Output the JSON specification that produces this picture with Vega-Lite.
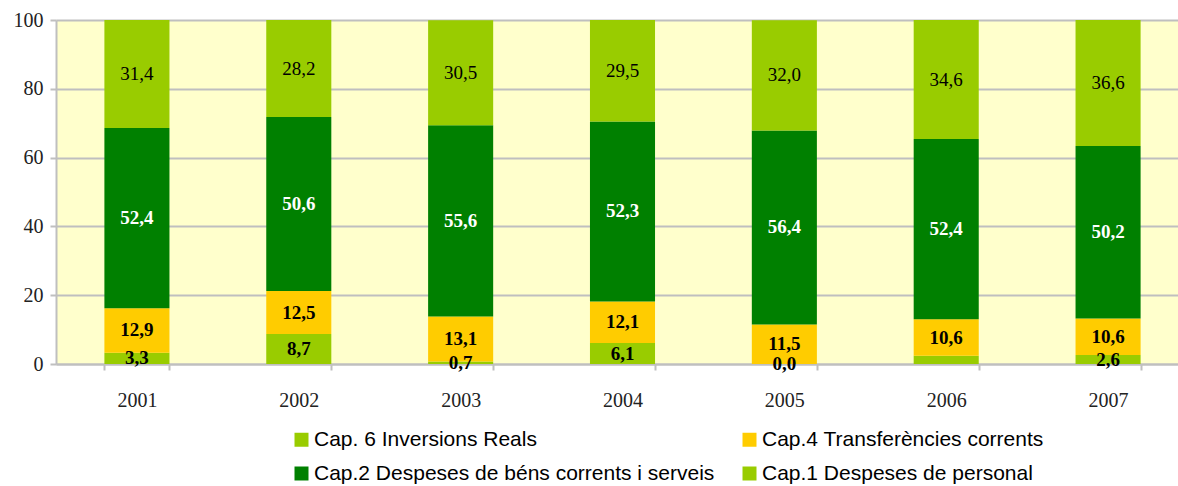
{
  "$schema": "https://vega.github.io/schema/vega-lite/v6.json",
  "width": 1133,
  "height": 344,
  "autosize": {"type": "none"},
  "padding": {"left": 56, "top": 20, "right": 0, "bottom": 122},
  "background": "white",
  "config": {
    "view": {"fill": "#FFFFCC", "stroke": null},
    "font": "Liberation Serif"
  },
  "data": {
    "values": [
      {"year": "2001", "serie": "Cap.1 Despeses de personal", "ordre": 1, "value": 3.3, "label": "3,3"},
      {"year": "2001", "serie": "Cap.4 Transferències corrents", "ordre": 2, "value": 12.9, "label": "12,9"},
      {"year": "2001", "serie": "Cap.2 Despeses de béns corrents i serveis", "ordre": 3, "value": 52.4, "label": "52,4"},
      {"year": "2001", "serie": "Cap. 6 Inversions Reals", "ordre": 4, "value": 31.4, "label": "31,4"},
      {"year": "2002", "serie": "Cap.1 Despeses de personal", "ordre": 1, "value": 8.7, "label": "8,7"},
      {"year": "2002", "serie": "Cap.4 Transferències corrents", "ordre": 2, "value": 12.5, "label": "12,5"},
      {"year": "2002", "serie": "Cap.2 Despeses de béns corrents i serveis", "ordre": 3, "value": 50.6, "label": "50,6"},
      {"year": "2002", "serie": "Cap. 6 Inversions Reals", "ordre": 4, "value": 28.2, "label": "28,2"},
      {"year": "2003", "serie": "Cap.1 Despeses de personal", "ordre": 1, "value": 0.7, "label": "0,7"},
      {"year": "2003", "serie": "Cap.4 Transferències corrents", "ordre": 2, "value": 13.1, "label": "13,1"},
      {"year": "2003", "serie": "Cap.2 Despeses de béns corrents i serveis", "ordre": 3, "value": 55.6, "label": "55,6"},
      {"year": "2003", "serie": "Cap. 6 Inversions Reals", "ordre": 4, "value": 30.5, "label": "30,5"},
      {"year": "2004", "serie": "Cap.1 Despeses de personal", "ordre": 1, "value": 6.1, "label": "6,1"},
      {"year": "2004", "serie": "Cap.4 Transferències corrents", "ordre": 2, "value": 12.1, "label": "12,1"},
      {"year": "2004", "serie": "Cap.2 Despeses de béns corrents i serveis", "ordre": 3, "value": 52.3, "label": "52,3"},
      {"year": "2004", "serie": "Cap. 6 Inversions Reals", "ordre": 4, "value": 29.5, "label": "29,5"},
      {"year": "2005", "serie": "Cap.1 Despeses de personal", "ordre": 1, "value": 0.0, "label": "0,0"},
      {"year": "2005", "serie": "Cap.4 Transferències corrents", "ordre": 2, "value": 11.5, "label": "11,5"},
      {"year": "2005", "serie": "Cap.2 Despeses de béns corrents i serveis", "ordre": 3, "value": 56.4, "label": "56,4"},
      {"year": "2005", "serie": "Cap. 6 Inversions Reals", "ordre": 4, "value": 32.0, "label": "32,0"},
      {"year": "2006", "serie": "Cap.1 Despeses de personal", "ordre": 1, "value": 2.4, "label": null},
      {"year": "2006", "serie": "Cap.4 Transferències corrents", "ordre": 2, "value": 10.6, "label": "10,6"},
      {"year": "2006", "serie": "Cap.2 Despeses de béns corrents i serveis", "ordre": 3, "value": 52.4, "label": "52,4"},
      {"year": "2006", "serie": "Cap. 6 Inversions Reals", "ordre": 4, "value": 34.6, "label": "34,6"},
      {"year": "2007", "serie": "Cap.1 Despeses de personal", "ordre": 1, "value": 2.6, "label": "2,6"},
      {"year": "2007", "serie": "Cap.4 Transferències corrents", "ordre": 2, "value": 10.6, "label": "10,6"},
      {"year": "2007", "serie": "Cap.2 Despeses de béns corrents i serveis", "ordre": 3, "value": 50.2, "label": "50,2"},
      {"year": "2007", "serie": "Cap. 6 Inversions Reals", "ordre": 4, "value": 36.6, "label": "36,6"}
    ]
  },
  "transform": [
    {"stack": "value", "groupby": ["year"], "sort": [{"field": "ordre", "order": "ascending"}], "as": ["y0", "y1"]},
    {"calculate": "(datum.y0 + datum.y1) / 2", "as": "mid"}
  ],
  "encoding": {
    "x": {
      "field": "year",
      "type": "ordinal",
      "scale": {"paddingInner": 0.598, "paddingOuter": 0.299},
      "axis": {
        "title": null,
        "labelAngle": 0,
        "labelFont": "Liberation Serif",
        "labelFontSize": 20,
        "labelColor": "#222222",
        "labelPadding": 20,
        "domainColor": "#BFBFBF",
        "domainWidth": 2,
        "tickColor": "#BFBFBF",
        "tickWidth": 2,
        "tickSize": 6,
        "tickBand": "extent",
        "grid": false
      }
    }
  },
  "layer": [
    {
      "mark": {"type": "bar"},
      "encoding": {
        "y": {
          "field": "y0",
          "type": "quantitative",
          "scale": {"domain": [0, 100], "nice": false},
          "axis": {
            "title": null,
            "values": [0, 20, 40, 60, 80, 100],
            "labelFont": "Liberation Serif",
            "labelFontSize": 20,
            "labelColor": "#222222",
            "labelPadding": 7,
            "grid": true,
            "gridColor": "#BFBFBF",
            "gridWidth": 2,
            "domainColor": "#BFBFBF",
            "domainWidth": 2,
            "tickColor": "#BFBFBF",
            "tickWidth": 2,
            "tickSize": 6
          }
        },
        "y2": {"field": "y1"},
        "color": {
          "field": "serie",
          "type": "nominal",
          "scale": {
            "domain": ["Cap. 6 Inversions Reals", "Cap.4 Transferències corrents", "Cap.2 Despeses de béns corrents i serveis", "Cap.1 Despeses de personal"],
            "range": ["#99CC00", "#FFCC00", "#008000", "#99CC00"]
          },
          "legend": {
            "orient": "none",
            "direction": "horizontal",
            "legendX": 235,
            "legendY": 409,
            "columns": 2,
            "title": null,
            "symbolType": "square",
            "symbolSize": 196,
            "symbolStrokeWidth": 0,
            "symbolOpacity": 1,
            "labelFont": "Liberation Sans",
            "labelFontSize": 21,
            "labelColor": "#000000",
            "labelLimit": 600,
            "columnPadding": 24,
            "rowPadding": 12,
            "labelOffset": 2,
            "padding": 0
          }
        }
      }
    },
    {
      "transform": [{"filter": "datum.ordre === 4"}],
      "mark": {"type": "text", "font": "Liberation Serif", "fontSize": 19, "baseline": "middle", "align": "center", "color": "#000000"},
      "encoding": {
        "y": {"field": "mid", "type": "quantitative"},
        "text": {"field": "label"}
      }
    },
    {
      "transform": [{"filter": "datum.ordre !== 4 && datum.label != null"}],
      "mark": {"type": "text", "font": "Liberation Serif", "fontSize": 19, "fontWeight": "bold", "baseline": "middle", "align": "center"},
      "encoding": {
        "y": {"field": "mid", "type": "quantitative"},
        "text": {"field": "label"},
        "color": {"condition": {"test": "datum.ordre === 3", "value": "#FFFFFF"}, "value": "#000000"}
      }
    }
  ]
}
